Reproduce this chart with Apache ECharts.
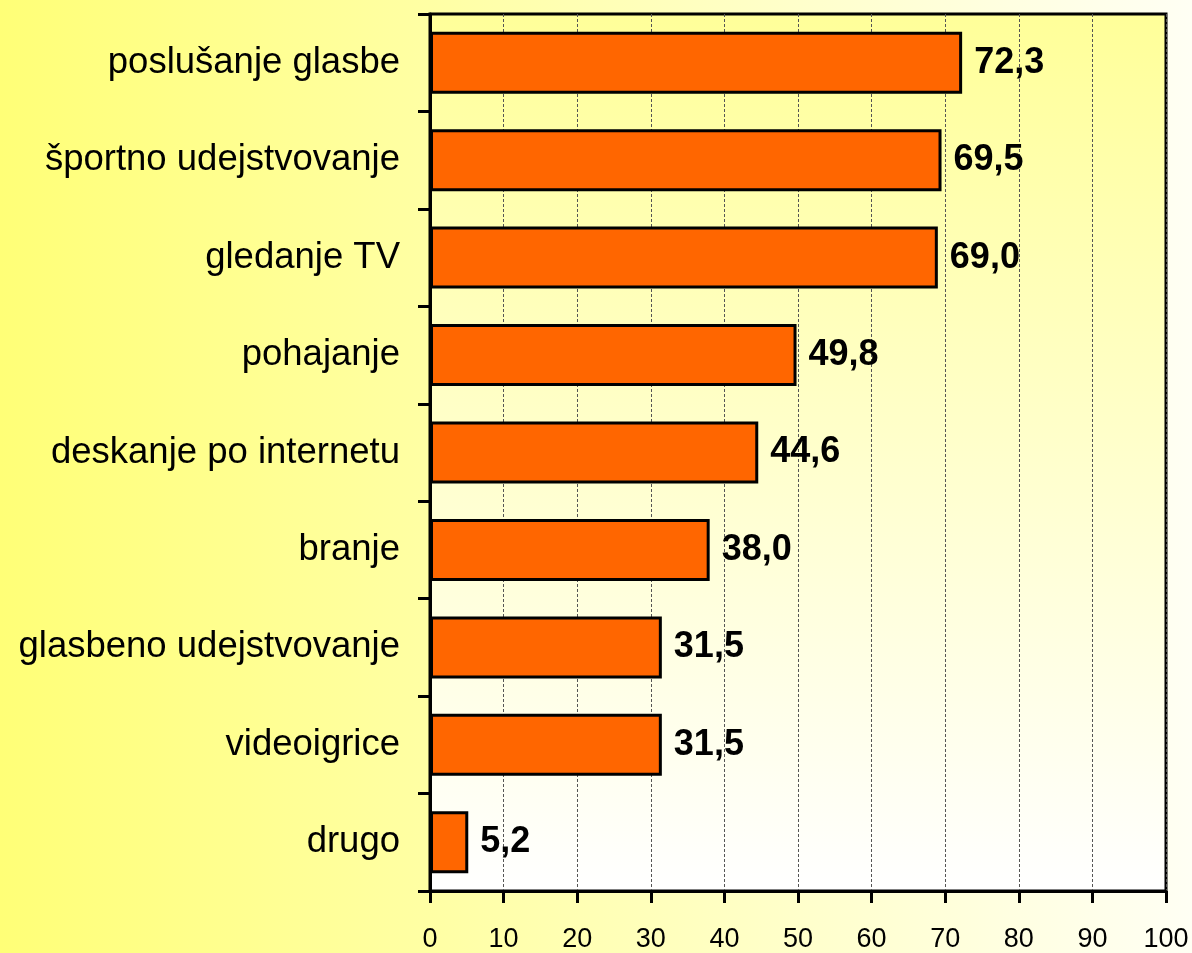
<!DOCTYPE html>
<html>
<head>
<meta charset="utf-8">
<script src="https://cdn.jsdelivr.net/npm/echarts@6/dist/echarts.min.js"></script>
<style>
  html, body { margin: 0; padding: 0; }
  #chart { width: 1192px; height: 953px; }
</style>
</head>
<body>
<div id="chart"></div>
<script>
// kategorije (od zgoraj navzdol)
var categories = [
  'poslušanje glasbe',
  'športno udejstvovanje',
  'gledanje TV',
  'pohajanje',
  'deskanje po internetu',
  'branje',
  'glasbeno udejstvovanje',
  'videoigrice',
  'drugo'
]
var values = [72.3, 69.5, 69.0, 49.8, 44.6, 38.0, 31.5, 31.5, 5.2]
var xTicks = [0, 10, 20, 30, 40, 50, 60, 70, 80, 90, 100]

var chart = echarts.init(document.getElementById('chart'))

var option = {
  // ozadje: rumeno levo -> svetlo desno
  backgroundColor: new echarts.graphic.LinearGradient(0, 0, 1, 0, [
    { offset: 0, color: '#ffff77' },
    { offset: 1, color: '#fffff4' }
  ]),
  textStyle: { fontFamily: 'Liberation Sans, Arial, sans-serif' },
  grid: {
    left: 430,
    right: 26,
    top: 14,
    bottom: 61,
    show: true,
    borderColor: '#000',
    borderWidth: 3,
    backgroundColor: new echarts.graphic.LinearGradient(0, 0, 0, 1, [
      { offset: 0, color: '#ffff99' },
      { offset: 1, color: '#ffffff' }
    ])
  },
  xAxis: {
    type: 'value',
    min: xTicks[0],
    max: xTicks[xTicks.length - 1],
    interval: 10,
    axisLine: { show: true, lineStyle: { color: '#000', width: 3 } },
    axisTick: { show: true, length: 12, lineStyle: { color: '#000', width: 3 } },
    axisLabel: {
      color: '#000',
      fontSize: 27,
      margin: 35,
      formatter: function (v) { return xTicks.indexOf(v) >= 0 ? String(v) : '' }
    },
    splitLine: {
      show: true,
      lineStyle: { color: '#555', width: 1, type: [3, 2] }
    }
  },
  yAxis: {
    type: 'category',
    inverse: true,
    data: categories,
    axisLine: { show: true, lineStyle: { color: '#000', width: 3 } },
    axisTick: { show: true, length: 12, lineStyle: { color: '#000', width: 3 } },
    axisLabel: {
      color: '#000',
      fontSize: 36.5,
      margin: 30
    },
    splitLine: { show: false }
  },
  series: [
    {
      type: 'bar',
      data: values,
      barWidth: 62,
      itemStyle: {
        color: '#ff6600',
        borderColor: '#000',
        borderWidth: 3
      },
      label: {
        show: true,
        position: 'right',
        distance: 12,
        color: '#000',
        fontSize: 36,
        fontWeight: 'bold',
        formatter: function (p) { return p.value.toFixed(1).replace('.', ',') }
      },
      animation: false
    }
  ]
}

chart.setOption(option)
</script>
</body>
</html>
